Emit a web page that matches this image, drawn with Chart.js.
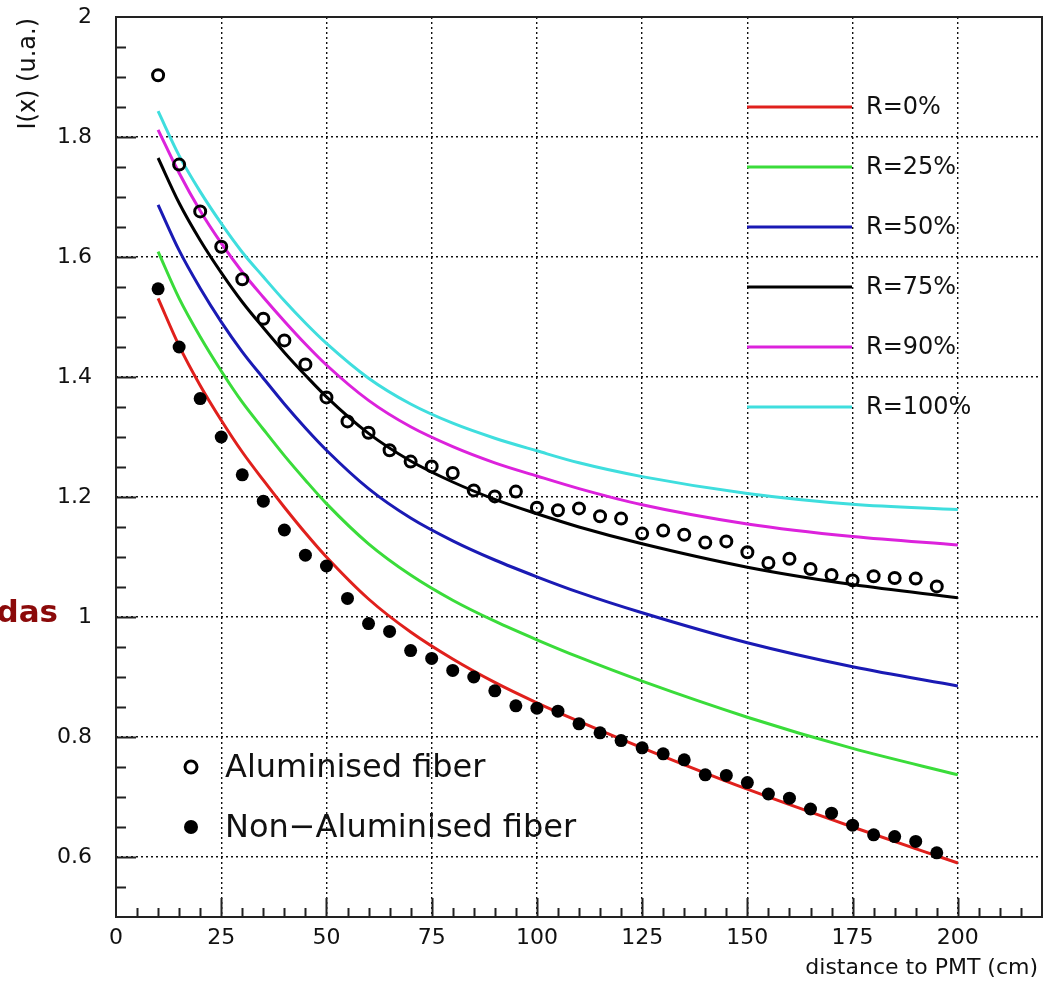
<!DOCTYPE html>
<html>
<head>
<meta charset="utf-8">
<script src="https://cdn.jsdelivr.net/npm/chart.js@4.4.1/dist/chart.umd.min.js"></script>
<style>
    html, body { margin: 0; padding: 0; background: #fff; }
    #wrap { position: relative; width: 1051px; height: 982px; overflow: hidden; }
    #side { position: absolute; right: 993px; top: 596px; font: bold 31px "DejaVu Sans", sans-serif; line-height: 1; color: #8b0a0a; white-space: nowrap; }
</style>
</head>
<body>
<div id="wrap">
    <canvas id="attChart" width="1051" height="982"></canvas>
    <div id="side">das</div>
</div>
<script>
// light yield along the fiber

const distance = [10, 15, 20, 25, 30, 35, 40, 45, 50, 60, 70, 80, 90, 100, 110, 125, 150, 175, 200];
const r0   = [1.531, 1.452, 1.386, 1.328, 1.275, 1.228, 1.183, 1.140, 1.100, 1.030, 0.975, 0.930, 0.891, 0.857, 0.826, 0.782, 0.713, 0.650, 0.590];
const r25  = [1.609, 1.531, 1.467, 1.410, 1.358, 1.313, 1.269, 1.228, 1.189, 1.122, 1.070, 1.028, 0.993, 0.962, 0.933, 0.893, 0.833, 0.781, 0.737];
const r50  = [1.687, 1.611, 1.548, 1.492, 1.442, 1.398, 1.355, 1.315, 1.278, 1.214, 1.165, 1.127, 1.095, 1.067, 1.041, 1.007, 0.957, 0.917, 0.885];
const r75  = [1.765, 1.690, 1.628, 1.574, 1.525, 1.482, 1.441, 1.403, 1.367, 1.306, 1.260, 1.225, 1.196, 1.172, 1.150, 1.122, 1.083, 1.054, 1.032];
const r90  = [1.812, 1.740, 1.677, 1.623, 1.575, 1.533, 1.493, 1.455, 1.420, 1.361, 1.317, 1.284, 1.257, 1.235, 1.214, 1.187, 1.155, 1.134, 1.120];
const r100 = [1.843, 1.769, 1.709, 1.656, 1.608, 1.567, 1.527, 1.490, 1.456, 1.398, 1.355, 1.323, 1.298, 1.277, 1.257, 1.234, 1.206, 1.188, 1.179];

const curveLabels = ['R=0%', 'R=25%', 'R=50%', 'R=75%', 'R=90%', 'R=100%'];
const curveColors = ['#e0201c', '#3adc3a', '#1a1ab4', '#000000', '#dc22dc', '#3fdede'];

// measured points, every 5 cm
const fiberX = [10, 15, 20, 25, 30, 35, 40, 45, 50, 55, 60, 65, 70, 75, 80, 85, 90, 95, 100,
                105, 110, 115, 120, 125, 130, 135, 140, 145, 150, 155, 160, 165, 170, 175, 180, 185, 190, 195];
const aluminised = [1.903, 1.754, 1.676, 1.617, 1.563, 1.497, 1.461, 1.421, 1.366, 1.326, 1.307, 1.278, 1.259, 1.251, 1.240, 1.211, 1.201, 1.209, 1.182,
                    1.178, 1.181, 1.168, 1.164, 1.139, 1.144, 1.137, 1.124, 1.126, 1.108, 1.090, 1.097, 1.080, 1.070, 1.061, 1.068, 1.065, 1.064, 1.051];
const nonAluminised = [1.547, 1.450, 1.364, 1.300, 1.237, 1.193, 1.145, 1.103, 1.085, 1.031, 0.989, 0.976, 0.944, 0.931, 0.911, 0.900, 0.877, 0.852, 0.848,
                       0.843, 0.822, 0.807, 0.794, 0.782, 0.772, 0.762, 0.737, 0.736, 0.724, 0.705, 0.698, 0.680, 0.673, 0.653, 0.637, 0.634, 0.626, 0.607];
const markerLabels = ['Aluminised fiber', 'Non\u2212Aluminised fiber'];

const X_MIN = 0, X_MAX = 220, Y_MIN = 0.5, Y_MAX = 2;
const FONT = '"DejaVu Sans", sans-serif';

function pairs(xs, ys) {
    return xs.map((x, i) => ({ x: x, y: ys[i] }));
}

const curves = [r0, r25, r50, r75, r90, r100].map((vals, i) => ({
    label: curveLabels[i],
    data: pairs(distance, vals),
    showLine: true,
    borderColor: curveColors[i],
    borderWidth: 3,
    pointRadius: 0,
    cubicInterpolationMode: 'monotone',
    order: 2
}));

const markers = [
    {
        label: markerLabels[0],
        data: pairs(fiberX, aluminised),
        pointRadius: 5.5,
        pointBorderWidth: 3,
        pointBorderColor: '#000',
        pointBackgroundColor: 'rgba(0,0,0,0)',
        order: 1
    },
    {
        label: markerLabels[1],
        data: pairs(fiberX, nonAluminised),
        pointRadius: 6.5,
        pointBorderWidth: 0,
        pointBackgroundColor: '#000',
        order: 1
    }
];

// frame, inward ticks, legends and axis titles (ROOT style)
const rootDecor = {
    id: 'rootDecor',
    afterDraw(chart) {
        const ctx = chart.ctx;
        const a = chart.chartArea;
        const xs = chart.scales.x, ys = chart.scales.y;
        ctx.save();

        ctx.strokeStyle = '#222';
        ctx.lineWidth = 2;
        ctx.beginPath();
        for (let v = 5; v < X_MAX; v += 5) {
            const px = Math.round(xs.getPixelForValue(v)) + 0.5;
            const len = v % 25 === 0 ? 19 : 9;
            ctx.moveTo(px, a.bottom);
            ctx.lineTo(px, a.bottom - len);
        }
        for (let i = 11; i < 40; i++) {
            const py = Math.round(ys.getPixelForValue(i * 0.05)) + 0.5;
            const len = i % 4 === 0 ? 20 : 10;
            ctx.moveTo(a.left, py);
            ctx.lineTo(a.left + len, py);
        }
        ctx.stroke();
        ctx.strokeRect(a.left, a.top, a.width, a.height);

        // R legend (top right)
        ctx.font = '24px ' + FONT;
        ctx.textAlign = 'left';
        ctx.textBaseline = 'alphabetic';
        curveLabels.forEach((lab, i) => {
            const y = 107 + i * 60;
            ctx.strokeStyle = curveColors[i];
            ctx.lineWidth = 3;
            ctx.beginPath();
            ctx.moveTo(747, y);
            ctx.lineTo(852, y);
            ctx.stroke();
            ctx.fillStyle = '#111';
            ctx.fillText(lab, 866, y + 7);
        });

        // marker legend (bottom left)
        ctx.font = '32px ' + FONT;
        ctx.strokeStyle = '#000';
        ctx.lineWidth = 3;
        ctx.beginPath();
        ctx.arc(191, 767, 6, 0, Math.PI * 2);
        ctx.stroke();
        ctx.fillStyle = '#000';
        ctx.beginPath();
        ctx.arc(191, 827, 7, 0, Math.PI * 2);
        ctx.fill();
        ctx.fillStyle = '#111';
        ctx.fillText(markerLabels[0], 225, 777);
        ctx.fillText(markerLabels[1], 225, 837);

        // axis titles
        ctx.font = '22px ' + FONT;
        ctx.textAlign = 'right';
        ctx.textBaseline = 'middle';
        ctx.fillText('distance to PMT (cm)', 1038, 968);
        ctx.font = '24px ' + FONT;
        ctx.translate(29, 18);
        ctx.rotate(-Math.PI / 2);
        ctx.fillText('I(x) (u.a.)', 0, 0);

        ctx.restore();
    }
};

new Chart(document.getElementById('attChart'), {
    type: 'scatter',
    data: { datasets: curves.concat(markers) },
    options: {
        responsive: false,
        animation: false,
        devicePixelRatio: 1,
        layout: { padding: { top: 17, right: 9, left: 0, bottom: 0 } },
        plugins: { legend: { display: false }, tooltip: { enabled: false } },
        scales: {
            x: {
                type: 'linear',
                min: X_MIN,
                max: X_MAX,
                afterFit: (s) => { s.height = 65; },
                border: { display: false, dash: [2, 3] },
                grid: {
                    drawTicks: false,
                    lineWidth: 1.4,
                    color: (c) => (c.tick && c.tick.value > X_MIN && c.tick.value < X_MAX) ? '#111' : 'rgba(0,0,0,0)'
                },
                ticks: {
                    stepSize: 25,
                    includeBounds: false,
                    maxRotation: 0,
                    autoSkip: false,
                    padding: 8,
                    color: '#111',
                    font: { family: FONT, size: 22 },
                    callback: (v) => String(v)
                }
            },
            y: {
                type: 'linear',
                min: Y_MIN,
                max: Y_MAX,
                // keep the plot frame where the reference has it
                afterFit: (s) => { s.width = 116; s.paddingTop = 0; s.paddingBottom = 0; },
                border: { display: false, dash: [2, 3] },
                grid: {
                    drawTicks: false,
                    lineWidth: 1.4,
                    color: (c) => (c.tick && c.tick.value < Y_MAX - 0.01) ? '#111' : 'rgba(0,0,0,0)'
                },
                ticks: {
                    stepSize: 0.2,
                    includeBounds: false,
                    autoSkip: false,
                    padding: 24,
                    color: '#111',
                    font: { family: FONT, size: 22 },
                    callback: (v) => String(Math.round(v * 10) / 10)
                }
            }
        }
    },
    plugins: [rootDecor]
});
</script>
</body>
</html>
